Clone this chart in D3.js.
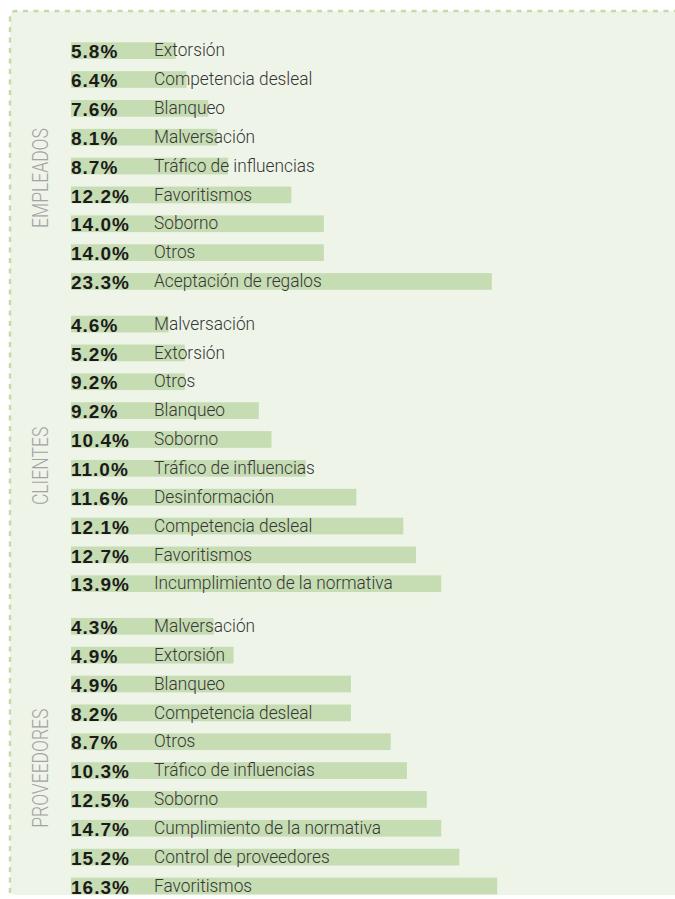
<!DOCTYPE html>
<html>
<head>
<meta charset="utf-8">
<script src="https://cdn.jsdelivr.net/npm/d3@7"></script>
<style>
  html, body { margin: 0; padding: 0; background: #fff; }
  svg { display: block; }
</style>
</head>
<body>
<svg id="chart" width="675" height="899"></svg>
<script>
// group names, top to bottom
const groups = ["EMPLEADOS", "CLIENTES", "PROVEEDORES"];

const empleadosCat = ["Extorsión", "Competencia desleal", "Blanqueo", "Malversación",
  "Tráfico de influencias", "Favoritismos", "Soborno", "Otros", "Aceptación de regalos"];
const empleadosVal = [5.8, 6.4, 7.6, 8.1, 8.7, 12.2, 14.0, 14.0, 23.3];
// bar lengths as drawn in the original (same % scale)
const empleadosBar = [5.8, 6.4, 7.6, 8.1, 8.7, 12.2, 14.0, 14.0, 23.3];

const clientesCat = ["Malversación", "Extorsión", "Otros", "Blanqueo", "Soborno",
  "Tráfico de influencias", "Desinformación", "Competencia desleal", "Favoritismos",
  "Incumplimiento de la normativa"];
const clientesVal = [4.6, 5.2, 9.2, 9.2, 10.4, 11.0, 11.6, 12.1, 12.7, 13.9];
const clientesBar = [5.4, 6.3, 6.3, 10.4, 11.1, 13.0, 15.8, 18.4, 19.1, 20.5];

const proveedoresCat = ["Malversación", "Extorsión", "Blanqueo", "Competencia desleal",
  "Otros", "Tráfico de influencias", "Soborno", "Cumplimiento de la normativa",
  "Control de proveedores", "Favoritismos"];
const proveedoresVal = [4.3, 4.9, 4.9, 8.2, 8.7, 10.3, 12.5, 14.7, 15.2, 16.3];
const proveedoresBar = [7.9, 9.0, 15.5, 15.5, 17.7, 18.6, 19.7, 20.5, 21.5, 23.6];

const main = function() {
  const rows = buildRows();
  drawChart(rows);
}();

function buildRows() {
  const table = [
    [empleadosCat, empleadosVal, empleadosBar],
    [clientesCat, clientesVal, clientesBar],
    [proveedoresCat, proveedoresVal, proveedoresBar]
  ];
  const GAP = 0.477; // extra space between groups, in rows
  const rows = [];
  let slot = 0;
  table.forEach(([cats, vals, bars], g) => {
    cats.forEach((cat, i) => {
      rows.push({ group: g, name: cat, value: vals[i], bar: bars[i], slot: slot });
      slot++;
    });
    slot += GAP;
  });
  return rows;
}

function drawChart(rows) {
  const svg = d3.select("#chart");
  const BAR_H = 16.7;

  const x = d3.scaleLinear().domain([0, 25]).range([71, 71 + 25 * 18.06]);
  const y = d3.scaleLinear().domain([0, 1]).range([42.3, 42.3 + 28.85]);

  // panel background
  svg.append("rect")
    .attr("x", 10).attr("y", 11)
    .attr("width", 700).attr("height", 884)
    .attr("rx", 6)
    .style("fill", "#eef4e8");

  // dashed border, top + left only
  svg.append("path")
    .attr("d", "M10,893 L10,17 Q10,11 16,11 L675,11")
    .style("fill", "none")
    .style("stroke", "#c3dbab")
    .style("stroke-width", 2.5)
    .style("stroke-dasharray", "5,5.5");

  svg.append("g")
    .selectAll("rect")
    .data(rows)
    .join("rect")
      .attr("x", x(0))
      .attr("y", d => y(d.slot))
      .attr("width", d => x(d.bar) - x(0))
      .attr("height", BAR_H)
      .style("fill", "#c6dcb3");

  svg.append("g")
    .selectAll("text")
    .data(rows)
    .join("text")
      .attr("x", x(0))
      .attr("y", d => y(d.slot) + 16)
      .text(d => d.value.toFixed(1) + "%")
      .style("font-family", "'Liberation Sans', Arial, sans-serif")
      .style("font-weight", "bold")
      .style("font-size", "19px")
      .style("letter-spacing", "1px")
      .style("fill", "#1b1b1b");

  // names: slightly condensed
  svg.append("g")
    .selectAll("text")
    .data(rows)
    .join("text")
      .attr("transform", d => `translate(154,${y(d.slot) + 14}) scale(0.91,1)`)
      .text(d => d.name)
      .style("font-family", "Roboto, sans-serif")
      .style("font-weight", 300)
      .style("font-size", "19px")
      .style("fill", "#363636");

  // rotated group labels
  const centers = groups.map((name, g) => {
    const r = rows.filter(d => d.group === g);
    const top = y(r[0].slot);
    const bottom = y(r[r.length - 1].slot) + BAR_H;
    return { name: name, cy: (top + bottom) / 2 + 12 };
  });

  svg.append("g")
    .selectAll("text")
    .data(centers)
    .join("text")
      .attr("transform", d => `translate(48,${d.cy}) rotate(-90) scale(0.78,1)`)
      .attr("text-anchor", "middle")
      .text(d => d.name)
      .style("font-family", "Roboto, sans-serif")
      .style("font-weight", 300)
      .style("font-size", "22.5px")
      .style("fill", "#a3a3a3");
}
</script>
</body>
</html>
